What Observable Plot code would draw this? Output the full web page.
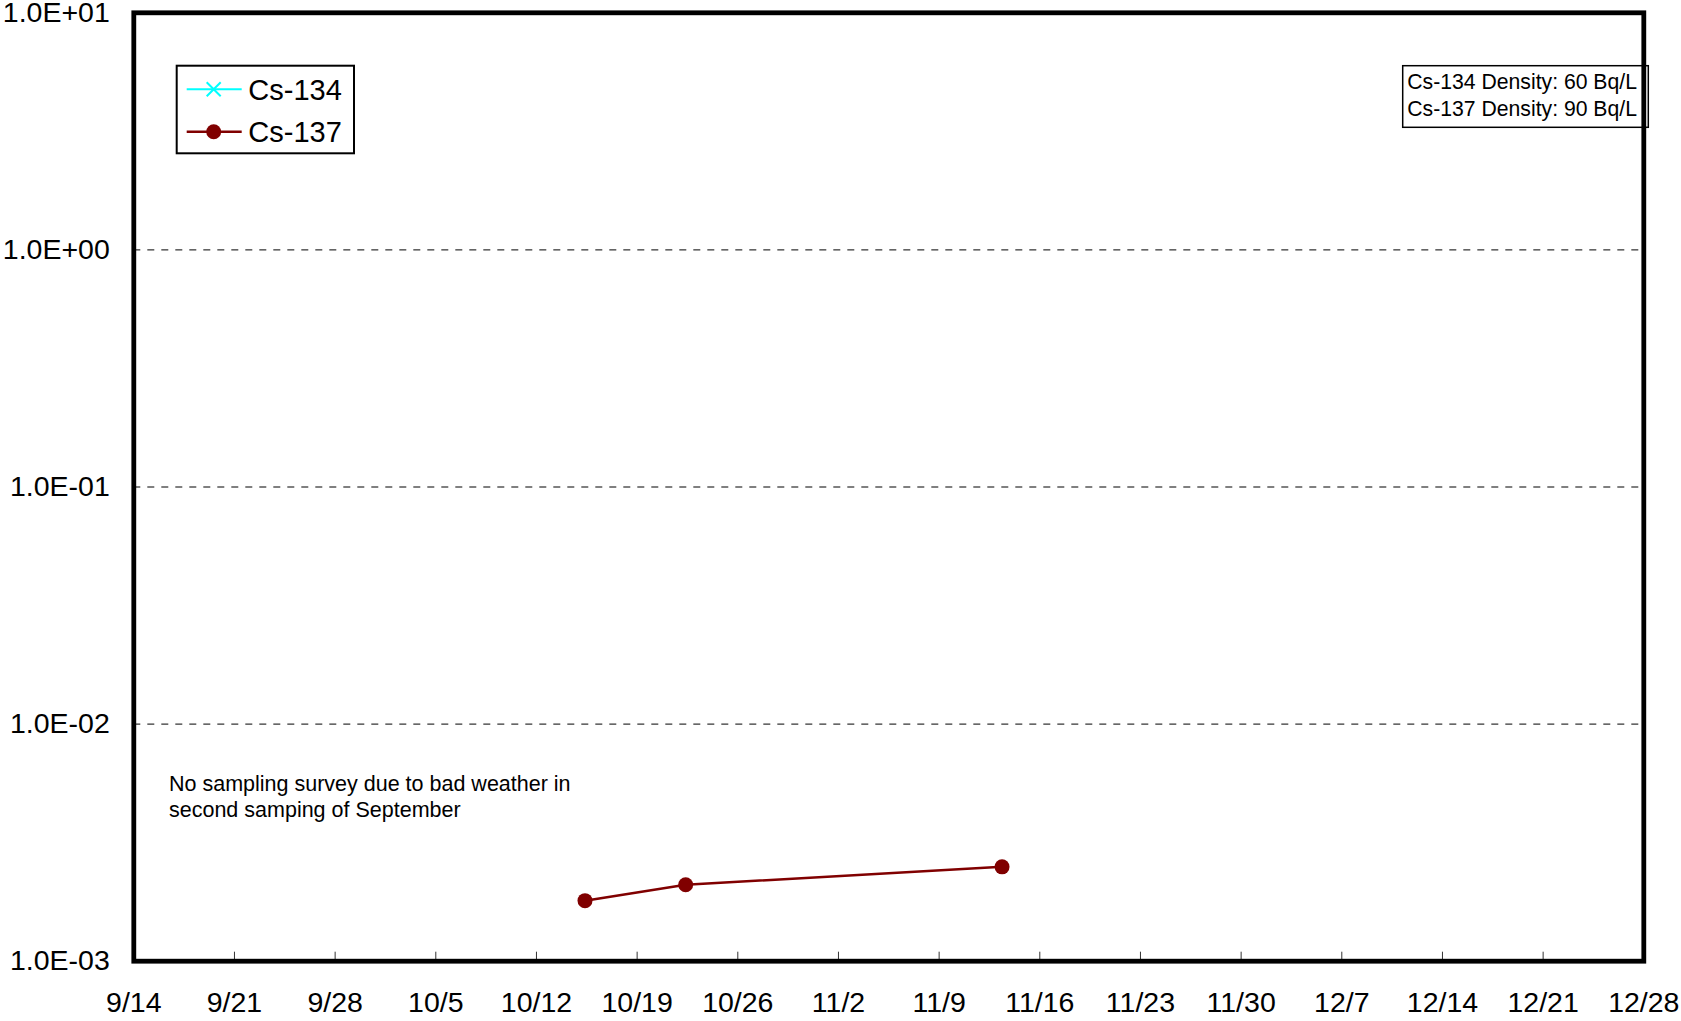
<!DOCTYPE html>
<html>
<head>
<meta charset="utf-8">
<script src="https://cdn.jsdelivr.net/npm/d3@7"></script>
<script src="https://cdn.jsdelivr.net/npm/@observablehq/plot@0.6"></script>
<style>
  html, body { margin: 0; padding: 0; background: #fff; }
  #chart svg { display: block; font-family: "Liberation Sans", Arial, sans-serif; }
</style>
</head>
<body>
<div id="chart"></div>
<script>
// Sea-water caesium measurements (Bq/L), autumn 2011 sampling
const year = 2011;

// Cs-134 was below detection at every sampling, so it has no plotted points
const cs134Dates = [];
const cs134Values = [];

// Cs-137 samplings (morning collection)
const cs137Dates = ["2011-10-15T09:00Z", "2011-10-22T09:00Z", "2011-11-13T09:00Z"];
const cs137Values = [0.0018, 0.0021, 0.0025];

// Axis ticks
const xTickLabels = ["9/14", "9/21", "9/28", "10/5", "10/12", "10/19", "10/26", "11/2",
                     "11/9", "11/16", "11/23", "11/30", "12/7", "12/14", "12/21", "12/28"];
const yTicks = [0.001, 0.01, 0.1, 1, 10];
const yTickLabels = ["1.0E-03", "1.0E-02", "1.0E-01", "1.0E+00", "1.0E+01"];

// Legend entries and side notes
const seriesNames = ["Cs-134", "Cs-137"];
const seriesColors = ["#00FFFF", "#800000"];
const densityNotes = ["Cs-134 Density: 60 Bq/L", "Cs-137 Density: 90 Bq/L"];
const noteLines = ["No sampling survey due to bad weather in", "second samping of September"];

const toDate = (label) => {
  const [m, d] = label.split("/").map(Number);
  return new Date(Date.UTC(year, m - 1, d));
};
const xTicks = xTickLabels.map(toDate);

const cs134 = cs134Dates.map((d, i) => ({date: new Date(d), value: cs134Values[i]}));
const cs137 = cs137Dates.map((d, i) => ({date: new Date(d), value: cs137Values[i]}));

const W = 1681, H = 1021;
const mL = 133.3, mR = 37.7, mT = 12.3, mB = 60.3;

const chart = Plot.plot({
  width: W,
  height: H,
  marginLeft: mL,
  marginRight: mR,
  marginTop: mT,
  marginBottom: mB,
  style: {background: "#fff", color: "#000"},
  x: {type: "utc", domain: [xTicks[0], xTicks[xTicks.length - 1]]},
  y: {type: "log", domain: [yTicks[0], yTicks[yTicks.length - 1]]},
  marks: [
    // dashed decade gridlines
    Plot.ruleY(yTicks.slice(1, -1), {stroke: "#000", strokeWidth: 1, strokeDasharray: "7,7"}),
    // y labels
    Plot.axisY({
      ticks: yTicks, tickSize: 0, tickPadding: 24, fontSize: 28.5, label: null,
      tickFormat: (d) => yTickLabels[yTicks.indexOf(d)]
    }),
    // inward x tick marks
    Plot.axisX({ticks: xTicks, tickSize: -9, stroke: "#333", fill: "none", label: null}),
    // x labels
    Plot.axisX({
      ticks: xTicks, tickSize: 0, tickPadding: 31, fontSize: 28.5, label: null,
      tickFormat: (d) => xTickLabels[xTicks.findIndex((t) => +t === +d)]
    }),
    // series
    Plot.line(cs134, {x: "date", y: "value", stroke: seriesColors[0], strokeWidth: 2}),
    Plot.dot(cs134, {x: "date", y: "value", symbol: "times", r: 6, stroke: seriesColors[0], strokeWidth: 2}),
    Plot.line(cs137, {x: "date", y: "value", stroke: seriesColors[1], strokeWidth: 2.5}),
    Plot.dot(cs137, {x: "date", y: "value", r: 7.5, fill: seriesColors[1], stroke: "none"}),
    // heavy plot border
    Plot.frame({stroke: "#000", strokeWidth: 4.8})
  ]
});

document.getElementById("chart").appendChild(chart);

const svg = d3.select(chart);

// Series legend, upper left
const legend = svg.append("g").attr("class", "series-legend").attr("text-anchor", "start");
legend.append("rect")
  .attr("x", 176.7).attr("y", 65.7).attr("width", 177.3).attr("height", 87.6)
  .attr("fill", "#fff").attr("stroke", "#000").attr("stroke-width", 2);
seriesNames.forEach((name, i) => {
  const cy = 89.3 + i * 42.4;
  const g = legend.append("g");
  g.append("line")
    .attr("x1", 186.7).attr("x2", 241.7).attr("y1", cy).attr("y2", cy)
    .attr("stroke", seriesColors[i]).attr("stroke-width", i === 0 ? 2 : 2.5);
  if (i === 0) {
    g.append("path")
      .attr("d", `M${213.7 - 7},${cy - 7}L${213.7 + 7},${cy + 7}M${213.7 - 7},${cy + 7}L${213.7 + 7},${cy - 7}`)
      .attr("stroke", seriesColors[i]).attr("stroke-width", 2).attr("fill", "none");
  } else {
    g.append("circle").attr("cx", 213.7).attr("cy", cy).attr("r", 7.5).attr("fill", seriesColors[i]);
  }
  g.append("text")
    .attr("x", 248.3).attr("y", cy + 10.5)
    .attr("font-size", 29).attr("fill", "#000")
    .text(name);
});

// Detection-limit note, upper right
const dens = svg.append("g").attr("class", "density-note").attr("text-anchor", "start");
dens.append("rect")
  .attr("x", 1402.7).attr("y", 65.7).attr("width", 245.6).attr("height", 61.6)
  .attr("fill", "none").attr("stroke", "#000").attr("stroke-width", 1.5);
densityNotes.forEach((t, i) => {
  dens.append("text")
    .attr("x", 1407.3).attr("y", 89.3 + i * 26.4)
    .attr("font-size", 21.2).attr("fill", "#000")
    .text(t);
});

// Missing-sample remark
const note = svg.append("g").attr("class", "sampling-note").attr("text-anchor", "start");
noteLines.forEach((t, i) => {
  note.append("text")
    .attr("x", 169).attr("y", 790.7 + i * 26)
    .attr("font-size", 21.5).attr("fill", "#000")
    .text(t);
});
</script>
</body>
</html>
